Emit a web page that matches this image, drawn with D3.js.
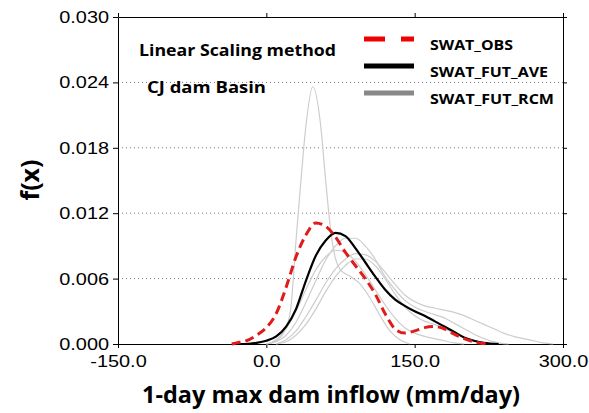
<!DOCTYPE html>
<html>
<head>
<meta charset="utf-8">
<script src="https://cdn.jsdelivr.net/npm/d3@7"></script>
<style>
  body { margin: 0; background: #fff; }
  svg { display: block; }
  .tick text { font-family: Arial, "Liberation Sans", sans-serif; }
</style>
</head>
<body>
<div id="chart-area"></div>
<script>
// Data (x = 1-day max dam inflow, mm/day ; y = density)
const obsX = [-35, -30, -20, -10, 0, 10, 20, 30, 40, 50, 60, 70, 80, 90, 100, 110, 120, 130, 140, 150, 160, 170, 180, 190, 200, 210, 225]
const obsY = [0, 0.0001, 0.0003, 0.0008, 0.0015, 0.0028, 0.0052, 0.0080, 0.0100, 0.0111, 0.0108, 0.0098, 0.0084, 0.0072, 0.0060, 0.0046, 0.0028, 0.0014, 0.0010, 0.0012, 0.0015, 0.0016, 0.0014, 0.0009, 0.0005, 0.0002, 0]

const aveX = [-30, -20, -10, 0, 10, 20, 30, 40, 50, 60, 70, 80, 90, 100, 110, 120, 130, 140, 150, 160, 170, 180, 190, 200, 210, 220, 235]
const aveY = [0, 0, 0.0001, 0.0003, 0.0007, 0.0016, 0.0032, 0.0058, 0.0081, 0.0095, 0.0102, 0.0099, 0.0088, 0.0075, 0.0062, 0.0050, 0.0041, 0.0035, 0.0030, 0.0026, 0.0021, 0.0016, 0.0011, 0.0006, 0.0003, 0.0001, 0]

const rcm1X = [0, 10, 20, 25, 30, 35, 40, 47, 55, 60, 65, 70, 75, 85, 95, 105, 115, 125, 135, 145]
const rcm1Y = [0, 0.0003, 0.0015, 0.0035, 0.0095, 0.015, 0.020, 0.0236, 0.020, 0.015, 0.0105, 0.0078, 0.0068, 0.0062, 0.0055, 0.0042, 0.0026, 0.0012, 0.0004, 0]

const rcm2X = [0, 10, 20, 30, 40, 50, 60, 70, 80, 90, 100, 110, 120, 130, 140, 150, 160, 170, 180, 190, 200, 210, 220, 230, 245]
const rcm2Y = [0, 0.0002, 0.0008, 0.0020, 0.0038, 0.0058, 0.0077, 0.0090, 0.0097, 0.0097, 0.0090, 0.0078, 0.0062, 0.0050, 0.0040, 0.0034, 0.0030, 0.0027, 0.0024, 0.0019, 0.0014, 0.0009, 0.0005, 0.0002, 0]

const rcm3X = [10, 20, 30, 40, 50, 60, 70, 80, 90, 100, 110, 120, 130, 140, 150, 160, 170, 180, 190, 200, 210, 220, 230, 240, 250, 260, 270, 280, 290]
const rcm3Y = [0, 0.0004, 0.0012, 0.0025, 0.0040, 0.0056, 0.0069, 0.0078, 0.0083, 0.0082, 0.0076, 0.0066, 0.0055, 0.0045, 0.0039, 0.0035, 0.0033, 0.0031, 0.0029, 0.0026, 0.0022, 0.0018, 0.0014, 0.0010, 0.0007, 0.0005, 0.0003, 0.0001, 0]

const rcm4X = [0, 10, 20, 30, 40, 50, 60, 70, 80, 90, 100, 110, 120, 130, 140, 150, 160, 170, 180, 190, 200]
const rcm4Y = [0, 0.0004, 0.0014, 0.0030, 0.0050, 0.0068, 0.0080, 0.0086, 0.0084, 0.0076, 0.0064, 0.0050, 0.0036, 0.0024, 0.0015, 0.0010, 0.0007, 0.0005, 0.0003, 0.0001, 0]

const rcm5X = [10, 20, 30, 40, 50, 60, 70, 80, 90, 100, 110, 120, 130, 140, 150, 160, 170, 180, 190, 200, 210, 220, 230]
const rcm5Y = [0, 0.0002, 0.0008, 0.0018, 0.0032, 0.0048, 0.0062, 0.0072, 0.0078, 0.0078, 0.0072, 0.0060, 0.0046, 0.0034, 0.0026, 0.0021, 0.0018, 0.0014, 0.0010, 0.0006, 0.0003, 0.0001, 0]

const xTicks = [-150, 0, 150, 300]
const yTicks = [0, 0.006, 0.012, 0.018, 0.024, 0.030]
const legendNames = ["SWAT_OBS", "SWAT_FUT_AVE", "SWAT_FUT_RCM"]

const MARGIN = { LEFT: 118, RIGHT: 26, TOP: 17, BOTTOM: 69 }
const WIDTH = 589 - MARGIN.LEFT - MARGIN.RIGHT
const HEIGHT = 413 - MARGIN.TOP - MARGIN.BOTTOM

const svg = d3.select("#chart-area").append("svg")
  .attr("width", 589)
  .attr("height", 413)

const g = svg.append("g")
  .attr("transform", `translate(${MARGIN.LEFT}, ${MARGIN.TOP})`)

// Scales
const x = d3.scaleLinear().domain([-150, 300]).range([0, WIDTH])
const y = d3.scaleLinear().domain([0, 0.030]).range([HEIGHT, 0])

// Gridlines
g.selectAll(".grid")
  .data(yTicks.filter(d => d > 0 && d < 0.030))
  .enter().append("line")
  .attr("x1", 0).attr("x2", WIDTH)
  .attr("y1", d => y(d)).attr("y2", d => y(d))
  .attr("stroke", "#777")
  .attr("stroke-width", 1)
  .attr("stroke-dasharray", "1,3")

// widen tick labels a bit, the original font is broader than Arial
function widen(sel) {
  sel.each(function () {
    const w = this.getComputedTextLength()
    d3.select(this).attr("textLength", w * 1.17).attr("lengthAdjust", "spacingAndGlyphs")
  })
}

// Axes (plain hyphen for the minus sign)
const xAxisCall = d3.axisBottom(x).tickValues(xTicks).tickFormat(d => d.toFixed(1)).tickSize(4).tickSizeOuter(0)
g.append("g")
  .attr("transform", `translate(0, ${HEIGHT})`)
  .call(xAxisCall)
  .call(a => a.selectAll("text").attr("font-size", "17px").attr("fill", "#000").attr("y", 11).attr("dy", "0.71em").call(widen))

const yAxisCall = d3.axisLeft(y).tickValues(yTicks).tickFormat(d => d.toFixed(3)).tickSize(5).tickSizeOuter(0)
g.append("g")
  .call(yAxisCall)
  .call(a => a.selectAll("text").attr("font-size", "17px").attr("fill", "#000").attr("x", -9).call(widen))

g.append("g")
  .call(d3.axisTop(x).tickValues(xTicks).tickFormat("").tickSize(4).tickSizeOuter(0))
g.append("g")
  .attr("transform", `translate(${WIDTH}, 0)`)
  .call(d3.axisRight(y).tickValues(yTicks).tickFormat("").tickSize(4).tickSizeOuter(0))

// Curves
const line = d3.line()
  .x(d => x(d[0]))
  .y(d => y(d[1]))
  .curve(d3.curveMonotoneX)

const rcmSeries = [[rcm1X, rcm1Y], [rcm2X, rcm2Y], [rcm3X, rcm3Y], [rcm4X, rcm4Y], [rcm5X, rcm5Y]]
rcmSeries.forEach(s => {
  g.append("path")
    .datum(s[0].map((v, i) => [v, s[1][i]]))
    .attr("d", line)
    .attr("fill", "none")
    .attr("stroke", "#cdcdcd")
    .attr("stroke-width", 1.2)
})

g.append("path")
  .datum(aveX.map((v, i) => [v, aveY[i]]))
  .attr("d", line)
  .attr("fill", "none")
  .attr("stroke", "#000")
  .attr("stroke-width", 2.2)

g.append("path")
  .datum(obsX.map((v, i) => [v, obsY[i]]))
  .attr("d", line)
  .attr("fill", "none")
  .attr("stroke", "#e01b1b")
  .attr("stroke-width", 3)
  .attr("stroke-dasharray", "9,5")

// Annotation
const labelFont = "'Open Sans', 'Noto Sans', sans-serif"
svg.append("text")
  .attr("x", 139).attr("y", 56)
  .attr("font-family", labelFont).attr("font-weight", "bold").attr("font-size", "16.5px")
  .attr("textLength", 197).attr("lengthAdjust", "spacingAndGlyphs")
  .text("Linear Scaling method")
svg.append("text")
  .attr("x", 147).attr("y", 93)
  .attr("font-family", labelFont).attr("font-weight", "bold").attr("font-size", "16.5px")
  .attr("textLength", 119).attr("lengthAdjust", "spacingAndGlyphs")
  .text("CJ dam Basin")

// Legend
const legendStyles = [
  { stroke: "#f00000", width: 5, dash: "21,16" },
  { stroke: "#000", width: 5, dash: null },
  { stroke: "#888", width: 5, dash: null }
]
const legendY = [39, 66, 93]
const legendLen = [83, 118, 124]
const legend = svg.selectAll(".legend")
  .data(legendNames)
  .enter().append("g")
  .attr("transform", (d, i) => `translate(364, ${legendY[i]})`)

legend.append("line")
  .attr("x1", 0).attr("x2", 50)
  .attr("stroke", (d, i) => legendStyles[i].stroke)
  .attr("stroke-width", (d, i) => legendStyles[i].width)
  .attr("stroke-dasharray", (d, i) => legendStyles[i].dash)

legend.append("text")
  .attr("x", 66)
  .attr("y", 11)
  .attr("font-family", labelFont).attr("font-weight", "bold").attr("font-size", "15px")
  .attr("textLength", (d, i) => legendLen[i]).attr("lengthAdjust", "spacingAndGlyphs")
  .text(d => d)

// Axis labels
svg.append("text")
  .attr("transform", "translate(39, 180) rotate(-90)")
  .attr("text-anchor", "middle")
  .attr("font-family", labelFont).attr("font-weight", "bold").attr("font-size", "25px")
  .text("f(x)")

svg.append("text")
  .attr("x", 142).attr("y", 403)
  .attr("font-family", labelFont).attr("font-weight", "bold").attr("font-size", "22.5px")
  .attr("textLength", 378).attr("lengthAdjust", "spacingAndGlyphs")
  .text("1-day max dam inflow (mm/day)")
</script>
</body>
</html>
